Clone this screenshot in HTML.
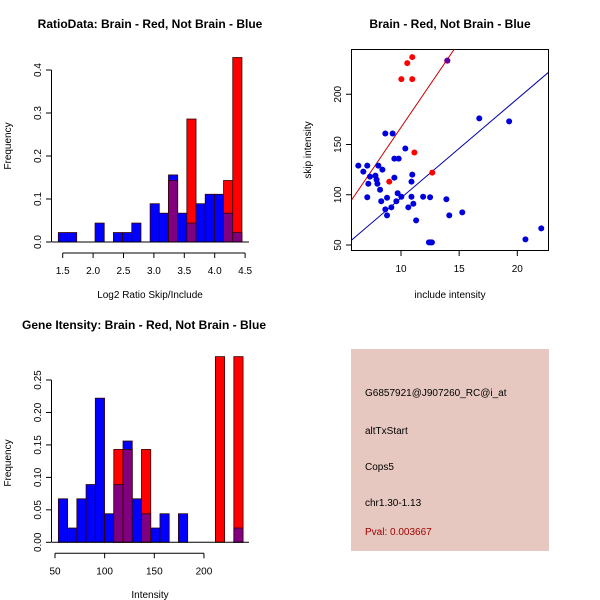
<!DOCTYPE html>
<html><head><meta charset="utf-8"><style>
body{margin:0;background:#fff}
svg{display:block;font-family:"Liberation Sans",sans-serif}
</style></head><body>
<svg id="c" width="600" height="600" xmlns="http://www.w3.org/2000/svg">
<rect width="600" height="600" fill="#fff"/>
<text x="150" y="28" text-anchor="middle" font-size="12" font-weight="bold">RatioData: Brain - Red, Not Brain - Blue</text>
<text x="450" y="28" text-anchor="middle" font-size="12" font-weight="bold">Brain - Red, Not Brain - Blue</text>
<text x="144" y="329" text-anchor="middle" font-size="12" font-weight="bold">Gene Itensity: Brain - Red, Not Brain - Blue</text>
<text x="150" y="298" text-anchor="middle" font-size="10">Log2 Ratio Skip/Include</text>
<text transform="translate(11,146) rotate(-90)" text-anchor="middle" font-size="10">Frequency</text>
<text x="450" y="298" text-anchor="middle" font-size="10">include intensity</text>
<text transform="translate(311,150) rotate(-90)" text-anchor="middle" font-size="10">skip intensity</text>
<text x="150" y="598" text-anchor="middle" font-size="10">Intensity</text>
<text transform="translate(11,463) rotate(-90)" text-anchor="middle" font-size="10">Frequency</text>
<rect x="351" y="349" width="198" height="202" fill="#e6c8c0"/>
<g font-size="10">
<text x="365" y="396">G6857921@J907260_RC@i_at</text>
<text x="365" y="434">altTxStart</text>
<text x="365" y="470">Cops5</text>
<text x="365" y="506">chr1.30-1.13</text>
<text x="365" y="535" fill="#a00000">Pval: 0.003667</text>
</g>
</svg>
<script>
// Ratio histogram data
const ratioBinStart = 1.428, ratioBinWidth = 0.151;
const ratioBlue = [0.022,0.022,0,0,0.044,0,0.022,0.022,0.044,0,0.089,0.067,0.156,0.067,0.044,0.089,0.111,0.111,0.067,0.022];
const ratioRed  = [0,0,0,0,0,0,0,0,0,0,0,0,0.143,0,0.286,0,0,0,0.143,0.429];
const ratioXTicks = [1.5,2.0,2.5,3.0,3.5,4.0,4.5];
const ratioYTicks = [0.0,0.1,0.2,0.3,0.4];
// Intensity histogram data
const intBinStart = 53.4, intBinWidth = 9.3;
const intBlue = [0.067,0.022,0.067,0.089,0.222,0.044,0.089,0.156,0.067,0.044,0.022,0.044,0,0.044,0,0,0,0,0,0.022];
const intRed  = [0,0,0,0,0,0,0.143,0.143,0,0.143,0,0,0,0,0,0,0,0.286,0,0.286];
const intXTicks = [50,100,150,200];
const intYTicks = [0.00,0.05,0.10,0.15,0.20,0.25];
// Scatter data
const blueX = [6.33,6.76,7.1,7.1,7.19,7.33,7.8,7.9,7.97,8.05,8.2,8.3,8.4,8.65,8.65,8.8,8.8,9.17,9.28,9.43,9.43,9.6,9.71,9.8,10.03,10.37,10.63,10.9,10.9,10.97,11.06,11.3,11.9,12.4,12.5,12.55,12.66,13.9,14.15,15.27,16.73,19.3,20.7,22.06];
const blueY = [129,123,129,97.5,111,118,119,115,111,129,105,93.5,125,161,85.5,97,79.5,87.5,161,117,136,93.5,101.5,136,98,146,87.5,113,98,120,91,74.5,98,52.6,97.5,52.6,52.6,95.5,79.5,82.5,176,173,55.6,66.6];
const redX = [10.03,10.54,10.97,10.97,11.15,8.99,12.69,13.98];
const redY = [215,231,237,215,142,113,122,233.5];
const lineRed = [17.0,-3.0];   // slope, intercept
const lineBlue = [9.86,-1.8];
const scXTicks = [10,15,20];
const scYTicks = [50,100,150,200];

const svg = document.getElementById('c');
const NS = 'http://www.w3.org/2000/svg';
function mk(tag, at){const e=document.createElementNS(NS,tag);for(const k in at)e.setAttribute(k,at[k]);svg.appendChild(e);return e;}

function hist(name, blue, red, start, w, sx, sy, base, xt, yt, yfmt, xl, xr){
  for(let i=0;i<blue.length;i++){
    const x0=sx(start+i*w), x1=sx(start+(i+1)*w);
    const b=blue[i], r=red[i], lo=Math.min(b,r), hi=Math.max(b,r);
    if(hi>0){
      const e=mk('rect',{x:x0,y:sy(hi),width:x1-x0,height:sy(0)-sy(hi),fill:b>=r?'#0000ff':'#ff0000',stroke:'#300',"stroke-width":0.8});
      
      
    }
    if(lo>0){
      const e=mk('rect',{x:x0,y:sy(lo),width:x1-x0,height:sy(0)-sy(lo),fill:'#800080',stroke:'#300',"stroke-width":0.8});
      
      
    }
  }
  const bl=mk('line',{x1:xl,x2:xr,y1:base,y2:base,stroke:'#000'});
  
  
  const ax=mk('line',{x1:sx(xt[0]),x2:sx(xt[xt.length-1]),y1:base+11,y2:base+11,stroke:'#000'});
  
  
  xt.forEach(t=>{mk('line',{x1:sx(t),x2:sx(t),y1:base+11,y2:base+16,stroke:'#000'});
    const tx=mk('text',{x:sx(t),y:base+32,"text-anchor":"middle","font-size":10});tx.textContent=(name==='ratio'?t.toFixed(1):t);
    
    });
  const ay=mk('line',{x1:51.5,x2:51.5,y1:sy(yt[0]),y2:sy(yt[yt.length-1]),stroke:'#000'});
  
  
  yt.forEach(t=>{mk('line',{x1:46,x2:51.5,y1:sy(t),y2:sy(t),stroke:'#000'});
    const tx=mk('text',{transform:`translate(41,${sy(t)}) rotate(-90)`,"text-anchor":"middle","font-size":10});tx.textContent=t.toFixed(yfmt);
    
    });
}
// ratio
hist('ratio', ratioBlue, ratioRed, ratioBinStart, ratioBinWidth,
  v=>62.7+(v-1.5)*60.8, v=>242-v*430, 242, ratioXTicks, ratioYTicks, 1, 52, 249);
// intensity
hist('intensity', intBlue, intRed, intBinStart, intBinWidth,
  v=>55+(v-50)*0.993, v=>542.3-v*649.2, 542.3, intXTicks, intYTicks, 2, 52, 249);

// scatter
const X=v=>401+(v-10)*11.63, Y=v=>245-(v-50)*1.005;
const box=mk('rect',{x:351.5,y:49.5,width:197,height:201,fill:'none',stroke:'#000'});


const clip=mk('clipPath',{id:'cp'});const cr=document.createElementNS(NS,'rect');
cr.setAttribute('x',351.5);cr.setAttribute('y',49.5);cr.setAttribute('width',197);cr.setAttribute('height',201);clip.appendChild(cr);
[[lineRed,'#cc0000','red-fit-line'],[lineBlue,'#0000aa','blue-fit-line']].forEach(([l,c,n])=>{
  const x0=5.76,x1=22.66;
  const e=mk('line',{x1:X(x0),y1:Y(l[0]*x0+l[1]),x2:X(x1),y2:Y(l[0]*x1+l[1]),stroke:c,"clip-path":"url(#cp)"});
  
  
});
redX.forEach((x,i)=>{const e=mk('circle',{cx:X(x),cy:Y(redY[i]),r:3,fill:'#ff0000'});
  
  });
blueX.forEach((x,i)=>{const e=mk('circle',{cx:X(x),cy:Y(blueY[i]),r:3,fill:'#0000dd'});
  
  });
const ov=mk('circle',{cx:X(13.98),cy:Y(233.5),r:3,fill:'#6000a0'});


scXTicks.forEach(t=>{mk('line',{x1:X(t),x2:X(t),y1:250.5,y2:256,stroke:'#000'});
  const tx=mk('text',{x:X(t),y:272,"text-anchor":"middle","font-size":10});tx.textContent=t;
  
  });
scYTicks.forEach(t=>{mk('line',{x1:346,x2:351.5,y1:Y(t),y2:Y(t),stroke:'#000'});
  const tx=mk('text',{transform:`translate(341,${Y(t)}) rotate(-90)`,"text-anchor":"middle","font-size":10});tx.textContent=t;
  
  });
</script>
</body></html>
